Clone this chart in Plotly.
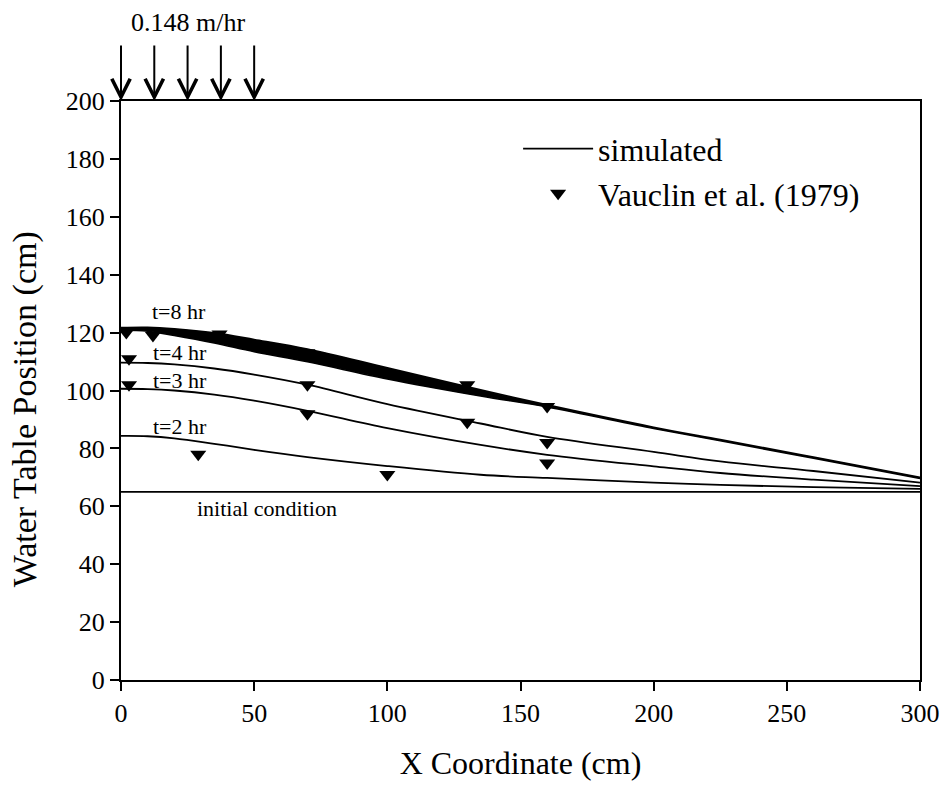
import plotly.graph_objects as go

# ---- data ----
x_sim = [0, 10, 20, 35, 50, 70, 100, 135, 160, 200, 225, 260, 300]
t2 = [84.3, 84.2, 83.5, 81.6, 79.5, 77.0, 73.9, 70.9, 69.8, 68.2, 67.4, 66.6, 66.0]
t3 = [100.6, 100.5, 100.0, 98.6, 96.5, 93.0, 87.0, 81.2, 77.8, 73.8, 71.5, 69.2, 67.0]
t4 = [109.6, 109.5, 109.0, 107.6, 105.5, 102.0, 95.3, 88.6, 84.0, 78.8, 75.5, 72.2, 68.2]
t8_upper = [121.7, 121.8, 121.3, 119.9, 117.6, 114.3, 107.8, 100.2, 95.0, 87.3, 83.0, 77.0, 70.0]
t8_lower = [120.8, 120.5, 119.0, 116.4, 113.4, 109.9, 104.0, 98.1, 94.3, 86.9, 82.6, 76.6, 69.6]
x_init = [0, 300]
y_init = [65, 65]

obs_x = [2, 12, 37, 70, 130, 160, 3, 70, 130, 160, 3, 70, 160, 29, 100]
obs_y = [120, 119, 119.5, 113, 102, 94.5, 111, 102, 89, 82, 102, 92, 75, 78, 71]

arrow_x = [0, 12.5, 25, 37.5, 50]
labels = ["t=8 hr", "t=4 hr", "t=3 hr", "t=2 hr", "initial condition"]
label_x = [21.7, 22.2, 22.2, 22.2, 54.8]
label_y = [127.2, 113.0, 103.4, 87.5, 59.3]

FONT = "Liberation Serif, Times New Roman, serif"

fig = go.Figure()

# thick band for t=8 hr
fig.add_trace(go.Scatter(x=x_sim, y=t8_lower, mode="lines",
                         line=dict(color="black", width=1.5, shape="spline"),
                         showlegend=False, hoverinfo="skip"))
fig.add_trace(go.Scatter(x=x_sim, y=t8_upper, mode="lines", fill="tonexty",
                         fillcolor="black", line=dict(color="black", width=1.8, shape="spline"),
                         showlegend=False))
for ys in (t4, t3, t2):
    fig.add_trace(go.Scatter(x=x_sim, y=ys, mode="lines",
                             line=dict(color="black", width=1.8, shape="spline"), showlegend=False))
fig.add_trace(go.Scatter(x=x_init, y=y_init, mode="lines", name="simulated",
                         line=dict(color="black", width=1.8)))
fig.add_trace(go.Scatter(x=obs_x, y=obs_y, mode="markers", name="Vauclin et al. (1979)",
                         marker=dict(symbol="triangle-down", size=14, color="black")))

annotations = []
for t, lx, ly in zip(labels, label_x, label_y):
    annotations.append(dict(x=lx, y=ly, xref="x", yref="y", text=t, showarrow=False,
                            xanchor="center", yanchor="middle",
                            font=dict(family=FONT, size=22, color="black")))
for ax_ in arrow_x:
    annotations.append(dict(x=ax_, y=200, xref="x", yref="y", text="", showarrow=True,
                            ax=0, ay=-57, arrowhead=5, arrowsize=1.8, arrowwidth=2,
                            arrowcolor="black", standoff=0))
annotations.append(dict(x=25, y=1.1364, xref="x", yref="paper", text="0.148 m/hr",
                        xanchor="center", yanchor="middle",
                        showarrow=False, font=dict(family=FONT, size=26, color="black")))
# y-axis title (placed to match the reference position)
annotations.append(dict(x=-0.120, y=0.468, xref="paper", yref="paper",
                        text="Water Table Position (cm)", textangle=-90, showarrow=False,
                        xanchor="center", yanchor="middle",
                        font=dict(family=FONT, size=34, color="black")))

fig.update_layout(
    width=944, height=789,
    margin=dict(l=121, r=24, t=101, b=109),
    paper_bgcolor="white", plot_bgcolor="white",
    font=dict(family=FONT, color="black"),
    annotations=annotations,
    legend=dict(x=0.497, y=0.965, xanchor="left", yanchor="top",
                font=dict(family=FONT, size=32, color="black"),
                bgcolor="rgba(0,0,0,0)", traceorder="normal", itemwidth=70,
                tracegroupgap=0),
)
fig.update_xaxes(range=[0, 300], tickvals=[0, 50, 100, 150, 200, 250, 300],
                 ticks="outside", ticklen=9, tickwidth=1.5, tickcolor="black",
                 showline=True, linecolor="black", linewidth=2, mirror=True,
                 showgrid=False, zeroline=False, automargin=False,
                 tickfont=dict(family=FONT, size=26, color="black"),
                 title=dict(text="X Coordinate (cm)", font=dict(family=FONT, size=32, color="black"),
                            standoff=24))
fig.update_yaxes(range=[0, 200], tickvals=list(range(0, 201, 20)),
                 ticks="outside", ticklen=9, tickwidth=1.5, tickcolor="black",
                 showline=True, linecolor="black", linewidth=2, mirror=True,
                 showgrid=False, zeroline=False, automargin=False,
                 tickfont=dict(family=FONT, size=26, color="black"))

fig.write_html("out.html")
